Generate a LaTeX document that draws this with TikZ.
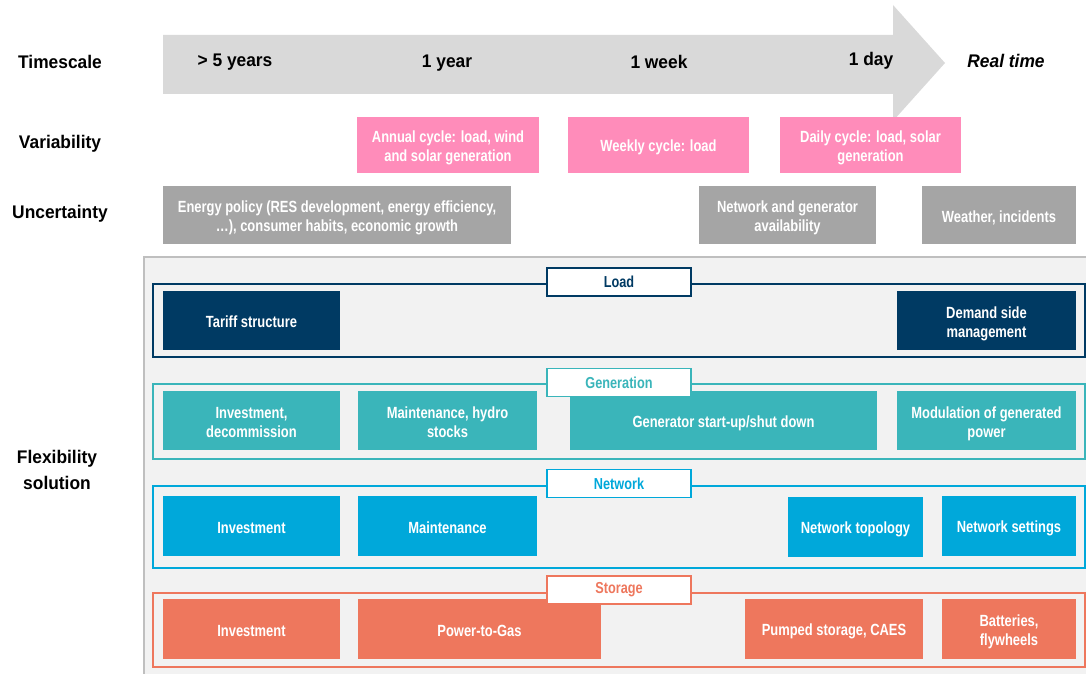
\documentclass[tikz,border=0pt]{standalone}
\usepackage{fontspec}
\setmainfont{Liberation Sans}
\newfontfamily\hdfont[FakeStretch=0.95]{Liberation Sans}
\newfontfamily\bxfont[FakeStretch=0.8]{Liberation Sans}
\definecolor{loadc}{HTML}{003A63}
\definecolor{genc}{HTML}{3AB5BA}
\definecolor{netc}{HTML}{00A8DA}
\definecolor{stoc}{HTML}{EE775D}
\definecolor{pinkc}{HTML}{FF8CBA}
\definecolor{uncc}{HTML}{A5A5A5}
\definecolor{arrowc}{HTML}{D9D9D9}
\definecolor{panelc}{HTML}{F2F2F2}
\definecolor{panelln}{HTML}{BFBFBF}

\begin{document}
\begin{tikzpicture}[x=0.025cm,y=-0.025cm]
\tikzset{H/.style={font={\hdfont\bfseries\fontsize{13}{18.5}\selectfont},align=center}}
\tikzset{sz/.style 2 args={minimum width=#1*0.025cm,minimum height=#2*0.025cm}}
\tikzset{B/.style={inner sep=0pt,font={\bxfont\bfseries\fontsize{11.5}{13.5}\selectfont},text=white,align=center,
  execute at begin node={\rule{0pt}{12pt}},execute at end node={\rule[-2pt]{0pt}{0pt}}}}
\tikzset{B2/.style={B,text height=26pt,text depth=2pt}}
\tikzset{T/.style={inner sep=0pt,fill=white,line width=1.2pt,sz={144}{28},font={\bxfont\bfseries\fontsize{11.3}{12}\selectfont}}}
\tikzset{F/.style={inner sep=0pt,line width=1.2pt,sz={932}{#1}}}

  \useasboundingbox (0,0) rectangle (1086,674);

  \fill[arrowc] (163,35) -- (893,35) -- (893,5) -- (945,63) -- (893,121) -- (893,94) -- (163,94) -- cycle;

  \node[H] (hts) at (60,62) {Timescale};
  \node[H] (hvar) at (60,144) {Variability};
  \node[H] (hunc) at (60,214) {Uncertainty};
  \node[H] (hflex) at (57,470) {Flexibility\\solution};

  \node[H] (t1) at (235,62) {> 5 years};
  \node[H] (t2) at (447,63) {1 year};
  \node[H] (t3) at (659,62) {1 week};
  \node[H] (t4) at (871,61) {1 day};
  \node[H] (t5) at (1006,61) {\itshape Real time};

  \node[B2,fill=pinkc,sz={182}{56}] (v1) at (448,145) {Annual cycle: load, wind\\and solar generation};
  \node[B,fill=pinkc,sz={181}{56}] (v2) at (658.5,145) {Weekly cycle: load};
  \node[B2,fill=pinkc,sz={181}{56}] (v3) at (870.5,145) {Daily cycle: load, solar\\generation};

  \node[B2,fill=uncc,sz={348}{58}] (u1) at (337,215) {Energy policy (RES development, energy efficiency,\\…), consumer habits, economic growth};
  \node[B2,fill=uncc,sz={177}{58}] (u2) at (787.5,215) {Network and generator\\availability};
  \node[B,fill=uncc,sz={154}{58}] (u3) at (999,215) {Weather, incidents};

  \draw[fill=panelc,draw=panelln,line width=1pt] (144,257) rectangle (1100,690);

  \node[F=73,draw=loadc] (fl) at (619,320.5) {};
  \node[B,fill=loadc,sz={177}{59}] (l1) at (251.5,320.5) {Tariff structure};
  \node[B2,fill=loadc,sz={179}{59}] (l2) at (986.5,320.5) {Demand side\\management};
  \node[T,draw=loadc,text=loadc] (lt) at (619,282) {Load};

  \node[F=75,draw=genc] (fg) at (619,421.5) {};
  \node[B2,fill=genc,sz={177}{59}] (g1) at (251.5,420.5) {Investment,\\decommission};
  \node[B2,fill=genc,sz={179}{59}] (g2) at (447.5,420.5) {Maintenance, hydro\\stocks};
  \node[B,fill=genc,sz={307}{59}] (g3) at (723.5,420.5) {Generator start-up/shut down};
  \node[B2,fill=genc,sz={179}{59}] (g4) at (986.5,420.5) {Modulation of generated\\power};
  \node[T,draw=genc,text=genc] (gt) at (619,382.5) {Generation};

  \node[F=82,draw=netc] (fn) at (619,527) {};
  \node[B,fill=netc,sz={177}{60}] (n1) at (251.5,526) {Investment};
  \node[B,fill=netc,sz={179}{60}] (n2) at (447.5,526) {Maintenance};
  \node[B,fill=netc,sz={135}{60}] (n3) at (855.5,527) {Network topology};
  \node[B,fill=netc,sz={134}{60}] (n4) at (1009,526) {Network settings};
  \node[T,draw=netc,text=netc] (nt) at (619,483.5) {Network};

  \node[F=74,draw=stoc] (fs) at (619,630) {};
  \node[B,fill=stoc,sz={177}{60}] (s1) at (251.5,629) {Investment};
  \node[B,fill=stoc,sz={243}{60}] (s2) at (479.5,629) {Power-to-Gas};
  \node[B,fill=stoc,sz={178}{60}] (s3) at (834,629) {Pumped storage, CAES};
  \node[B2,fill=stoc,sz={134}{60}] (s4) at (1009,629) {Batteries,\\flywheels};
  \node[T,draw=stoc,text=stoc] (st) at (619,590) {Storage};
\end{tikzpicture}
\end{document}
